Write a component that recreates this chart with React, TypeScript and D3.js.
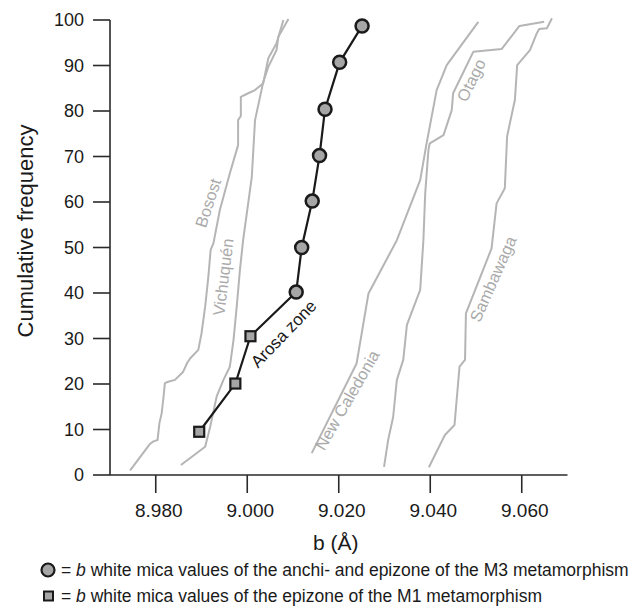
import React from "react";
import * as d3 from "d3";

// cumulative frequency curves, [b (Å), cumulative %]
const bosost = [
  [8.9744, 1], [8.9787, 6.8], [8.9795, 7.4], [8.9804, 7.7], [8.9808, 11.4],
  [8.9813, 13.6], [8.9817, 17.2], [8.982, 20.2], [8.9827, 20.5], [8.9842, 20.9],
  [8.986, 22.7], [8.9868, 24.5], [8.9875, 25.6], [8.9893, 27.5], [8.99, 31.1],
  [8.9908, 37], [8.9915, 43.6], [8.992, 49.5], [8.9926, 50.9], [8.994, 58.2],
  [8.9962, 66.3], [8.998, 72.5], [8.998, 78], [8.9986, 78.9], [8.9986, 83.1],
  [9.0002, 83.9], [9.0017, 84.6], [9.0035, 86.1], [9.0046, 91.6], [9.0064, 94.9],
  [9.0079, 100],
];
const vichuquen = [
  [8.9855, 2.2], [8.9908, 6.2], [8.9919, 10.6], [8.9933, 17.2], [8.9948, 20.9],
  [8.9962, 23.8], [8.997, 29.7], [8.9977, 37], [8.9984, 45.1], [8.9991, 51.6],
  [9.0, 58.2], [9.001, 65.6], [9.0017, 78], [9.0028, 83.1], [9.0035, 86.4],
  [9.0046, 89.7], [9.0064, 93.4], [9.0068, 96.3], [9.009, 100.2],
];
const newCaledonia = [
  [9.0141, 4.8], [9.0239, 24.5], [9.0265, 39.9], [9.0327, 51.6], [9.0378, 64.8],
  [9.0392, 72.9], [9.0414, 84.6], [9.0436, 90.1], [9.0505, 99.6],
];
const otago = [
  [9.0299, 1.8], [9.0308, 7.7], [9.0319, 12.8], [9.0327, 20.9], [9.0341, 25.3],
  [9.0349, 33], [9.0378, 40.7], [9.0385, 51.6], [9.0389, 61.9], [9.0396, 71.4],
  [9.0399, 72.9], [9.0429, 74.7], [9.0447, 80.2], [9.045, 83.9], [9.0494, 93],
  [9.0556, 93.6], [9.0595, 98.7], [9.0649, 99.6],
];
const sambawaga = [
  [9.0397, 1.7], [9.0432, 8.8], [9.0453, 11], [9.0464, 23.8], [9.0476, 25.3],
  [9.0478, 35.5], [9.0534, 49.8], [9.0545, 59.7], [9.0563, 63], [9.0568, 74.4],
  [9.0574, 77.3], [9.0585, 82.4], [9.059, 90.1], [9.0618, 93.4], [9.0633, 97.1],
  [9.0638, 98], [9.0655, 98.2], [9.0666, 100.4],
];

// Arosa zone samples
const m1Values = [
  [8.9895, 9.5], [8.9974, 20.1], [9.0007, 30.5],
];
const m3Values = [
  [9.0107, 40.2], [9.0119, 50], [9.0142, 60.2], [9.0158, 70.2], [9.017, 80.4],
  [9.0202, 90.7], [9.0251, 98.7],
];

const curveLabels = [
  { text: "Bosost", b: 8.9914, f: 59.8, angle: -72 },
  { text: "Vichuquén", b: 8.9947, f: 43.5, angle: -83 },
  { text: "New Caledonia", b: 9.0218, f: 16.5, angle: -60 },
  { text: "Otago", b: 9.0489, f: 86.8, angle: -64 },
  { text: "Sambawaga", b: 9.0537, f: 43.1, angle: -66 },
];

const xTicks = [8.98, 9.0, 9.02, 9.04, 9.06];
const yTicks = [0, 10, 20, 30, 40, 50, 60, 70, 80, 90, 100];

const W = 642;
const H = 606;
const FONT = "'Liberation Sans', Arial, Helvetica, sans-serif";
const GREY_LINE = "#b5b5b5";
const AXIS = "#2a2a2a";

export default function App() {
  const x = d3.scaleLinear().domain([8.97, 9.07]).range([110, 567.5]);
  const y = d3.scaleLinear().domain([0, 100]).range([475, 20]);

  const line = d3
    .line<number[]>()
    .x((d) => x(d[0]))
    .y((d) => y(d[1]));

  const greyCurves = [bosost, vichuquen, newCaledonia, otago, sambawaga];
  const arosa = [...m1Values, ...m3Values];

  return (
    <svg
      width={W}
      height={H}
      style={{ position: "absolute", left: 0, top: 0, background: "#fff" }}
      fontFamily={FONT}
    >
      {/* grey reference curves */}
      {greyCurves.map((c, i) => (
        <path
          key={i}
          d={line(c) || ""}
          fill="none"
          stroke={GREY_LINE}
          strokeWidth={2}
          strokeLinejoin="round"
        />
      ))}
      {curveLabels.map((l) => (
        <text
          key={l.text}
          transform={`translate(${x(l.b)},${y(l.f)}) rotate(${l.angle})`}
          textAnchor="middle"
          dominantBaseline="central"
          fontSize={16.5}
          fill="#aaaaaa"
        >
          {l.text}
        </text>
      ))}

      {/* axes */}
      <line x1={x(8.97)} x2={x(8.97)} y1={y(100)} y2={y(0)} stroke={AXIS} strokeWidth={1.6} />
      <line x1={x(8.97)} x2={x(9.07)} y1={y(0)} y2={y(0)} stroke={AXIS} strokeWidth={1.6} />
      {yTicks.map((t) => (
        <g key={t}>
          <line x1={x(8.97) - 17} x2={x(8.97)} y1={y(t)} y2={y(t)} stroke={AXIS} strokeWidth={1.6} />
          <text
            x={x(8.97) - 26}
            y={y(t)}
            textAnchor="end"
            dominantBaseline="central"
            fontSize={18}
            fill="#1a1a1a"
          >
            {t}
          </text>
        </g>
      ))}
      {xTicks.map((t) => (
        <g key={t}>
          <line x1={x(t)} x2={x(t)} y1={y(0)} y2={y(0) + 18} stroke={AXIS} strokeWidth={1.6} />
          <text
            x={x(t) + 3}
            y={y(0) + 35}
            textAnchor="middle"
            dominantBaseline="central"
            fontSize={19}
            fill="#1a1a1a"
          >
            {d3.format(".3f")(t)}
          </text>
        </g>
      ))}
      <text
        transform={`translate(25,231) rotate(-90)`}
        textAnchor="middle"
        dominantBaseline="central"
        fontSize={22}
        fill="#1a1a1a"
      >
        Cumulative frequency
      </text>
      <text
        x={(x(8.97) + x(9.07)) / 2 - 3}
        y={542}
        textAnchor="middle"
        dominantBaseline="central"
        fontSize={21}
        fill="#1a1a1a"
      >
        b (Å)
      </text>

      {/* Arosa zone */}
      <path d={line(arosa) || ""} fill="none" stroke="#1a1a1a" strokeWidth={2.2} />
      {m1Values.map((d, i) => (
        <rect
          key={"s" + i}
          x={x(d[0]) - 5}
          y={y(d[1]) - 5}
          width={10}
          height={10}
          fill="#a6a6a6"
          stroke="#1a1a1a"
          strokeWidth={2.2}
        />
      ))}
      {m3Values.map((d, i) => (
        <circle
          key={"c" + i}
          cx={x(d[0])}
          cy={y(d[1])}
          r={6.5}
          fill="#a6a6a6"
          stroke="#1a1a1a"
          strokeWidth={2.5}
        />
      ))}
      <text
        transform={`translate(${x(9.008)},${y(31)}) rotate(-46)`}
        textAnchor="middle"
        dominantBaseline="central"
        fontSize={17}
        fill="#1a1a1a"
      >
        Arosa zone
      </text>

      {/* legend */}
      <circle cx={48} cy={570} r={6.5} fill="#a6a6a6" stroke="#1a1a1a" strokeWidth={2.2} />
      <text x={61} y={570} dominantBaseline="central" fontSize={17.5} fill="#1a1a1a">
        = <tspan fontStyle="italic">b</tspan> white mica values of the anchi- and epizone of the M3 metamorphism
      </text>
      <rect x={44} y={591.5} width={9} height={9} fill="#a6a6a6" stroke="#1a1a1a" strokeWidth={2} />
      <text x={61} y={596} dominantBaseline="central" fontSize={17.5} fill="#1a1a1a">
        = <tspan fontStyle="italic">b</tspan> white mica values of the epizone of the M1 metamorphism
      </text>
    </svg>
  );
}
